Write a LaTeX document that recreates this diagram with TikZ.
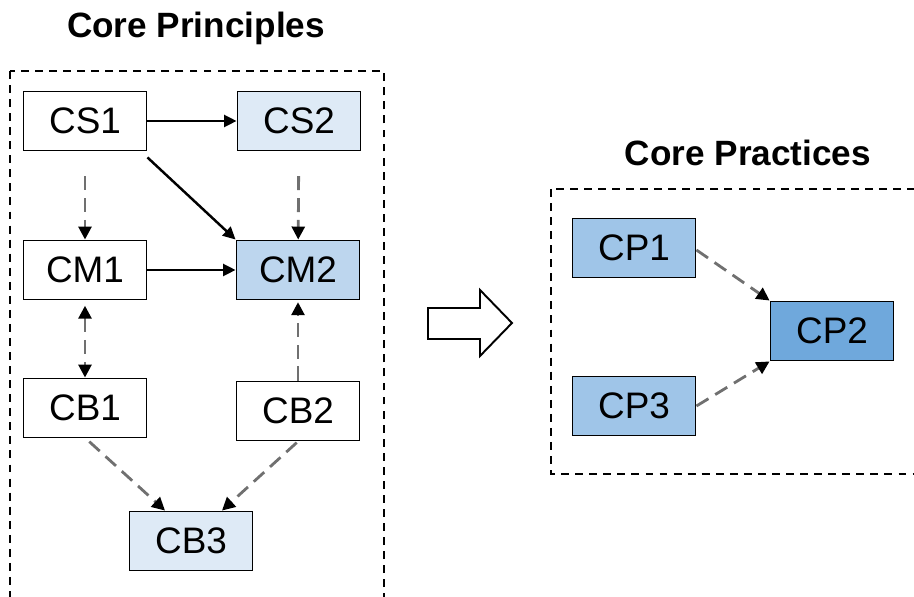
\documentclass[tikz,border=0pt]{standalone}
\usepackage{fontspec}
\setmainfont{Liberation Sans}
\usepackage{tikz}
\usetikzlibrary{arrows.meta}
\definecolor{paleblue}{HTML}{DEEAF6}
\definecolor{midblue}{HTML}{BDD6EE}
\definecolor{cpblue}{HTML}{9FC5E8}
\definecolor{darkblue}{HTML}{6FA8DC}
\definecolor{dashgray}{HTML}{707070}

\begin{document}
\begin{tikzpicture}[x=0.02cm, y=-0.02cm, line width=1.1pt]

        \tikzset{block/.style = {shape=rectangle, draw, minimum width=2.46cm, minimum height=1.18cm, inner sep=0pt, font=\fontsize{21}{24}\selectfont}}
        \tikzset{title/.style = {font=\fontsize{20}{24}\selectfont\bfseries}}
        \tikzset{tip/.style = {Triangle[length=2.6mm,width=2.6mm,fill=black,color=black]}}
        \tikzset{solid edge/.style = {line width=1.4pt, -{Triangle[length=2.5mm,width=2.4mm]}}}
        \tikzset{dash edge/.style = {draw=dashgray, line width=1.6pt, dash pattern=on 8pt off 4.5pt, -{Triangle[length=2.6mm,width=2.6mm,fill=black,color=black]}}}
        \tikzset{frame/.style = {dash pattern=on 4.5pt off 3.5pt, line width=1pt}}

        \clip (0,0) rectangle (914,597);

        % titles
        \node[title] (ttl1) at (196,28) {Core Principles};
        \node[title] (ttl2) at (748,153) {Core Practices};

        % dashed frames
        \draw[frame] (10,71) rectangle (384,620);
        \draw[frame] (551,189) rectangle (940,474);

        % principles
        \node[block] (cs1) at (85,121) {CS1};
        \node[block, fill=paleblue] (cs2) at (299,121) {CS2};
        \node[block] (cm1) at (85,270) {CM1};
        \node[block, fill=midblue] (cm2) at (298,270) {CM2};
        \node[block] (cb1) at (85,408) {CB1};
        \node[block, fill=white] (cb2) at (298,411) {CB2};
        \node[block, fill=paleblue] (cb3) at (191,541) {CB3};

        % practices
        \node[block, fill=cpblue] (cp1) at (634,248) {CP1};
        \node[block, fill=darkblue] (cp2) at (832,331) {CP2};
        \node[block, fill=cpblue] (cp3) at (634,406) {CP3};

        \draw[solid edge] (cs1) to (cs2);
        \draw[solid edge] (cs1.south east) ++(0,6) to (cm2.north west);
        \draw[solid edge] (cm1) to (cm2);

        \draw[dash edge, shorten <=14pt] (cs1) to (cm1);
        \draw[dash edge, shorten <=14pt] (cs2) to (cm2);
        \draw[dash edge, {Triangle[length=2.6mm,width=2.6mm,fill=black,color=black]}-{Triangle[length=2.6mm,width=2.6mm,fill=black,color=black]}, shorten <=3pt] (cm1) to (cb1);
        \draw[dash edge, shorten >=1pt] (cb2) to (cm2);
        \draw[dash edge, shorten <=1pt] (cb1.south) ++(3,2) to (cb3.north -| 165,0);
        \draw[dash edge, shorten <=1pt] (cb2.south) to (cb3.north -| 222,0);

        \draw[dash edge] (cp1.east) ++(0,2) to (cp2.north west);
        \draw[dash edge] (cp3.east) to (cp2.south west);

        % hollow arrow
        \draw[fill=white] (428,308) -- (480,308) -- (480,290) -- (512,323) -- (480,356) -- (480,339) -- (428,339) -- cycle;
\end{tikzpicture}
\end{document}
